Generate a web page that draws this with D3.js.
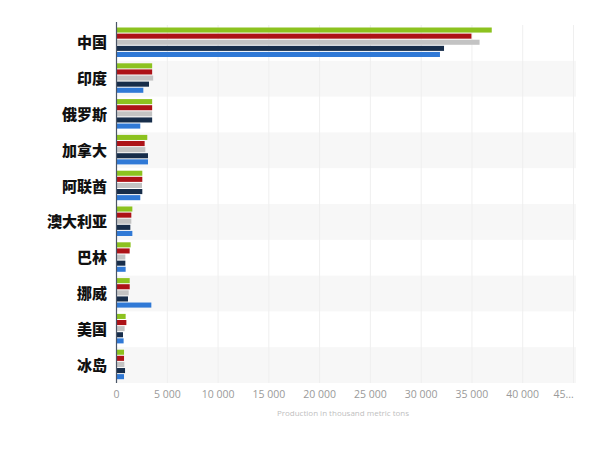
<!DOCTYPE html>
<html><head><meta charset="utf-8">
<script src="https://cdn.jsdelivr.net/npm/d3@7"></script>
<style>body{margin:0;background:#fff}svg{display:block}</style>
</head><body>
<svg id="c" width="600" height="450"></svg>
<script>
const categories = ["中国","印度","俄罗斯","加拿大","阿联酋","澳大利亚","巴林","挪威","美国","冰岛"];
const seriesNames = ["s1","s2","s3","s4","s5"];
const s1 = [37000,3560,3560,3080,2590,1610,1440,1350,950,790];
const s2 = [35000,3560,3560,2820,2590,1510,1345,1350,1020,790];
const s3 = [35800,3660,3560,2890,2560,1510,920,1250,850,820];
const s4 = [32300,3250,3560,3150,2590,1410,920,1180,690,890];
const s5 = [31900,2690,2390,3150,2390,1610,950,3480,750,790];
const seriesValues = [s1,s2,s3,s4,s5];
const seriesColors = ["#8cc21f","#ad1217","#c3c3c3","#172d4a","#3079d6"];
const tickValues = [0,5000,10000,15000,20000,25000,30000,35000,40000,45000];
const tickLabels = ["0","5 000","10 000","15 000","20 000","25 000","30 000","35 000","40 000","45..."];
const axisTitle = "Production in thousand metric tons";

const svg = d3.select("#c");
const L = 116, R = 573, T = 25, B = 383;
const x = d3.scaleLinear().domain([0,45000]).range([L,R]);
const y = d3.scaleBand().domain(categories).range([T,B]);
const inner = d3.scaleBand().domain(seriesNames).range([2.5, 32]).paddingInner(0.17);

// row shading
svg.append("g").selectAll("rect").data(categories.filter((d,i)=>i%2===1)).join("rect")
  .attr("x", L).attr("width", 576-L).attr("y", d=>y(d)).attr("height", y.bandwidth())
  .attr("fill","#f7f7f7");

// gridlines
svg.append("g").selectAll("line").data(tickValues.slice(1)).join("line")
  .attr("x1", d=>x(d)+0.5).attr("x2", d=>x(d)+0.5).attr("y1", T).attr("y2", B)
  .attr("stroke","#efefef").attr("stroke-width",1);

// bars
const g = svg.append("g");
categories.forEach((c,ci)=>{
  seriesNames.forEach((s,si)=>{
    g.append("rect")
      .attr("x", x(0)+1)
      .attr("y", y(c)+inner(s))
      .attr("width", Math.max(0, x(seriesValues[si][ci]) - x(0) - 1))
      .attr("height", inner.bandwidth())
      .attr("fill", seriesColors[si]);
  });
});

// y axis line
svg.append("line").attr("x1",L+0.5).attr("x2",L+0.5).attr("y1",T-3).attr("y2",B)
  .attr("stroke","#4a5566").attr("stroke-width",1.2);

// category labels
svg.append("g").selectAll("text").data(categories).join("text")
  .attr("x", 107).attr("y", d=>y(d)+y.bandwidth()/2 - 1)
  .attr("text-anchor","end").attr("dominant-baseline","central")
  .attr("font-family","'Noto Sans CJK SC', sans-serif").attr("font-weight","900")
  .attr("font-size",15).attr("fill","#111").text(d=>d);

// x tick labels
const xAxis = d3.axisBottom(x).tickValues(tickValues).tickSize(0).tickPadding(0)
  .tickFormat((d,i)=>tickLabels[i]);
const ax = svg.append("g").attr("transform",`translate(0,${B+8})`).call(xAxis);
ax.select(".domain").remove();
ax.selectAll("text").attr("font-family","'Open Sans', sans-serif").attr("font-size",10.5)
  .attr("fill","#9a9a9a");
ax.selectAll(".tick").filter(d=>d===45000).select("text").attr("text-anchor","start").attr("x",-20);

svg.append("text").attr("x", 343).attr("y", 416).attr("text-anchor","middle")
  .attr("font-family","'Open Sans', sans-serif").attr("font-size",8).attr("fill","#c0c0c0")
  .text(axisTitle);
</script>
</body></html>
